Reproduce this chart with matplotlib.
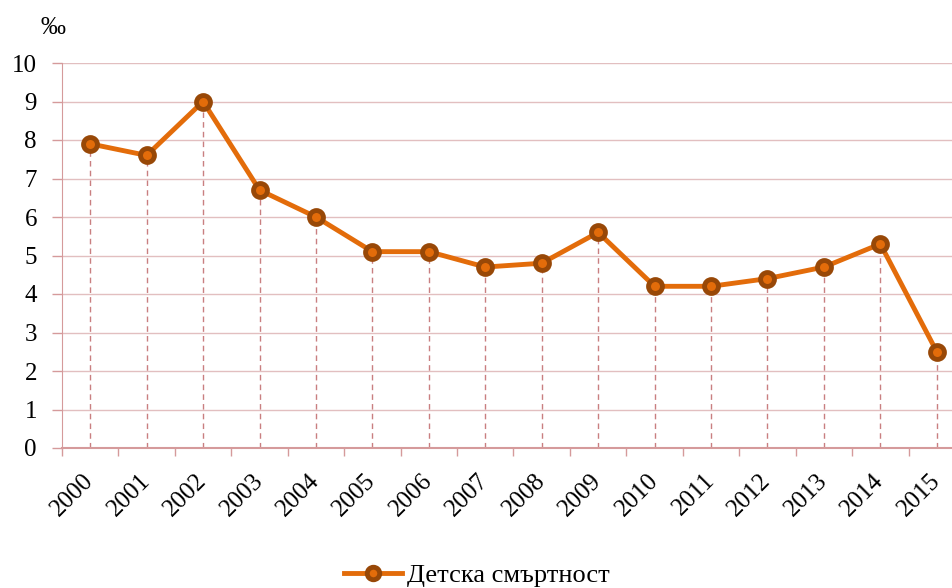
import matplotlib
matplotlib.use("Agg")
import matplotlib.pyplot as plt

# ==== Data ====
years = ["2000", "2001", "2002", "2003", "2004", "2005", "2006", "2007",
         "2008", "2009", "2010", "2011", "2012", "2013", "2014", "2015"]
mortality = [7.9, 7.6, 9.0, 6.7, 6.0, 5.1, 5.1, 4.7,
             4.8, 5.6, 4.2, 4.2, 4.4, 4.7, 5.3, 2.5]
yticks = list(range(0, 11))
series_label = "Детска смъртност"

plt.rcParams["font.family"] = ["Liberation Serif", "DejaVu Serif"]

LINE = "#E36C0A"
EDGE = "#984807"
GRID = "#E2BFC0"
AXIS = "#D59A9B"
DROP = "#C97F80"

fig = plt.figure(figsize=(9.53, 5.88), dpi=100)
# right edge of the plot area lies slightly past the picture, as in the original
ax = fig.add_axes([62 / 953, 1 - 448 / 588, (965 - 62) / 953, (448 - 63) / 588])

x = list(range(len(years)))
for xi, v in zip(x, mortality):
    ax.plot([xi, xi], [0, v], color=DROP, lw=1, ls=(0, (4, 3)), zorder=2)

ax.plot(x, mortality, color=LINE, lw=3.5, marker="o", ms=10,
        mfc=LINE, mec=EDGE, mew=3.5, zorder=4, label=series_label)

ax.set_xlim(-0.5, len(years) - 0.5)
ax.set_ylim(0, 10)
ax.set_yticks(yticks)
ax.yaxis.grid(True, color=GRID, lw=1)
ax.set_axisbelow(True)

# ticks between categories, labels at category centres
ax.set_xticks([i - 0.5 for i in range(len(years) + 1)])
ax.set_xticklabels([])
ax.set_xticks(x, minor=True)
ax.set_xticklabels(years, minor=True, rotation=45, ha="right", va="center",
                   rotation_mode="anchor", fontsize=18)
ax.tick_params(axis="x", which="minor", length=0, pad=21)
ax.tick_params(axis="x", which="major", length=6, color=AXIS, width=1)
ax.tick_params(axis="y", length=7, color=AXIS, width=1, labelsize=18, pad=11)

for s in ["top", "right"]:
    ax.spines[s].set_visible(False)
ax.spines["left"].set_color(AXIS)
ax.spines["bottom"].set_color(AXIS)
ax.spines["bottom"].set_linewidth(1.5)

fig.text(53 / 953, 1 - 28 / 588, "‰", fontsize=18, ha="center", va="center")

fig.legend(loc="center", bbox_to_anchor=(477 / 953, 1 - 575 / 588),
           frameon=False, fontsize=19, handlelength=2.2, handletextpad=0.2,
           markerscale=0.9)

fig.savefig("out.png", dpi=100)
